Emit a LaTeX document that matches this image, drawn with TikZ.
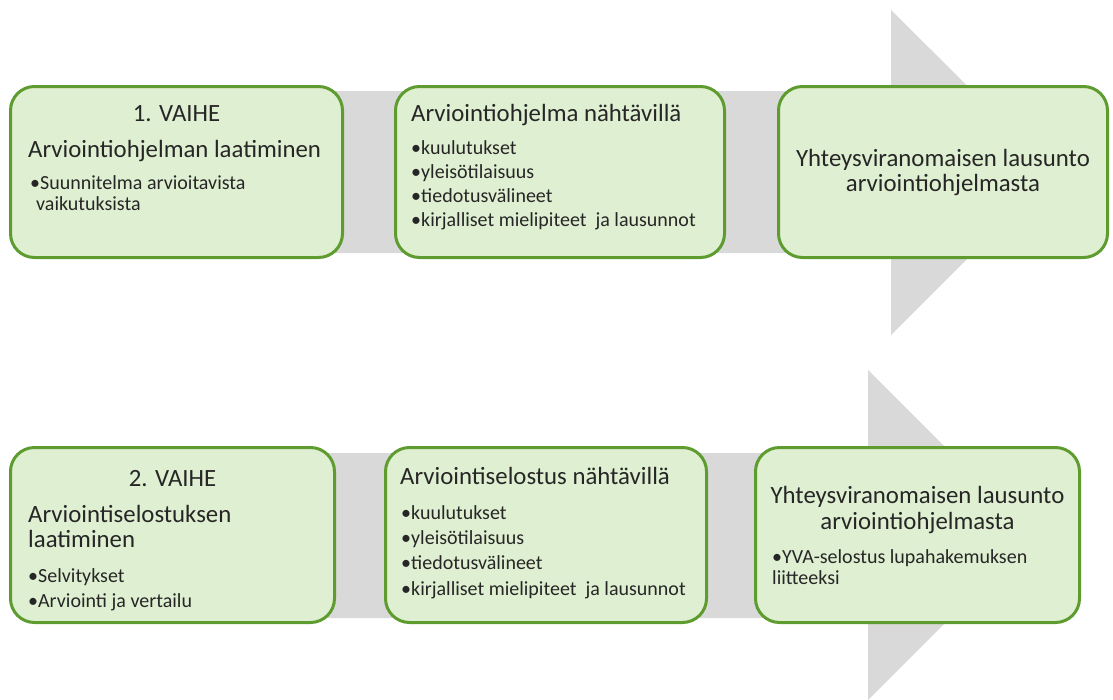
\documentclass[tikz,border=0pt]{standalone}
\usepackage{fontspec}
\setmainfont{Carlito}
\usetikzlibrary{positioning}
\definecolor{boxgreen}{HTML}{DFEFD1}
\definecolor{edgegreen}{HTML}{5F9C30}
\definecolor{bandgray}{HTML}{D9D9D9}
\tikzset{
    stage/.style={
    rectangle,rounded corners=24pt,draw=edgegreen,line width=3pt,fill=boxgreen,inner sep=0pt
    },
    band/.style={
    fill=bandgray,draw=none
    },
    head/.style={
    font=\fontsize{24.8}{28}\selectfont,text=black!85,inner sep=0pt
    },
    item/.style={
    font=\fontsize{20}{24}\selectfont,text=black!85,inner sep=0pt,anchor=base west
    },
}
\begin{document}
\begin{tikzpicture}[x=1pt,y=-1pt]
  \useasboundingbox (0,0) rectangle (1113,699);
  % gray arrows behind the boxes
  \fill[band] (30,91) -- (891,91) -- (891,10) -- (1054,172) -- (891,335) -- (891,253) -- (30,253) -- cycle;
  \fill[band] (30,453) -- (868,453) -- (868,370) -- (1033,535) -- (868,700) -- (868,618) -- (30,618) -- cycle;

  % first phase
  \node[stage,minimum width=332pt,minimum height=171pt] (p1a) at (176.5,172) {};
  \node[stage,minimum width=329pt,minimum height=171pt] (p1b) at (560,172) {};
  \node[stage,minimum width=329pt,minimum height=171pt] (p1c) at (943,172) {};

  \node[head,anchor=base] (p1a-h) at (176.5,121) {1. VAIHE};
  \node[head,anchor=base west] (p1a-t) at (28,157) {Arviointiohjelman laatiminen};
  \node[item] (p1a-i) at (30,189) {•Suunnitelma arvioitavista};
  \node[item] (p1a-j) at (36,210) {vaikutuksista};

  \node[head,anchor=base west] (p1b-t) at (411,121) {Arviointiohjelma nähtävillä};
  \node[item] (p1b-i) at (411,154) {•kuulutukset};
  \node[item] (p1b-j) at (411,178) {•yleisötilaisuus};
  \node[item] (p1b-k) at (411,202) {•tiedotusvälineet};
  \node[item] (p1b-l) at (411,226) {•kirjalliset mielipiteet\ \ ja lausunnot};

  \node[head,anchor=base] (p1c-t) at (943,166) {Yhteysviranomaisen lausunto};
  \node[head,anchor=base] (p1c-u) at (943,191) {arviointiohjelmasta};

  % second phase
  \node[stage,minimum width=324pt,minimum height=175pt] (p2a) at (172.5,535) {};
  \node[stage,minimum width=321pt,minimum height=175pt] (p2b) at (546,535) {};
  \node[stage,minimum width=324pt,minimum height=175pt] (p2c) at (917.5,535) {};

  \node[head,anchor=base] (p2a-h) at (172.5,486) {2. VAIHE};
  \node[head,anchor=base west] (p2a-t) at (28,522) {Arviointiselostuksen};
  \node[head,anchor=base west] (p2a-u) at (28,547) {laatiminen};
  \node[item] (p2a-i) at (28,582) {•Selvitykset};
  \node[item] (p2a-j) at (28,607) {•Arviointi ja vertailu};

  \node[head,anchor=base west] (p2b-t) at (400,484) {Arviointiselostus nähtävillä};
  \node[item] (p2b-i) at (401,519) {•kuulutukset};
  \node[item] (p2b-j) at (401,544) {•yleisötilaisuus};
  \node[item] (p2b-k) at (401,569) {•tiedotusvälineet};
  \node[item] (p2b-l) at (401,595) {•kirjalliset mielipiteet\ \ ja lausunnot};

  \node[head,anchor=base] (p2c-t) at (917.5,503) {Yhteysviranomaisen lausunto};
  \node[head,anchor=base] (p2c-u) at (917.5,529) {arviointiohjelmasta};
  \node[item] (p2c-i) at (772,563) {•YVA-selostus lupahakemuksen};
  \node[item] (p2c-j) at (772,584) {liitteeksi};
\end{tikzpicture}
\end{document}
